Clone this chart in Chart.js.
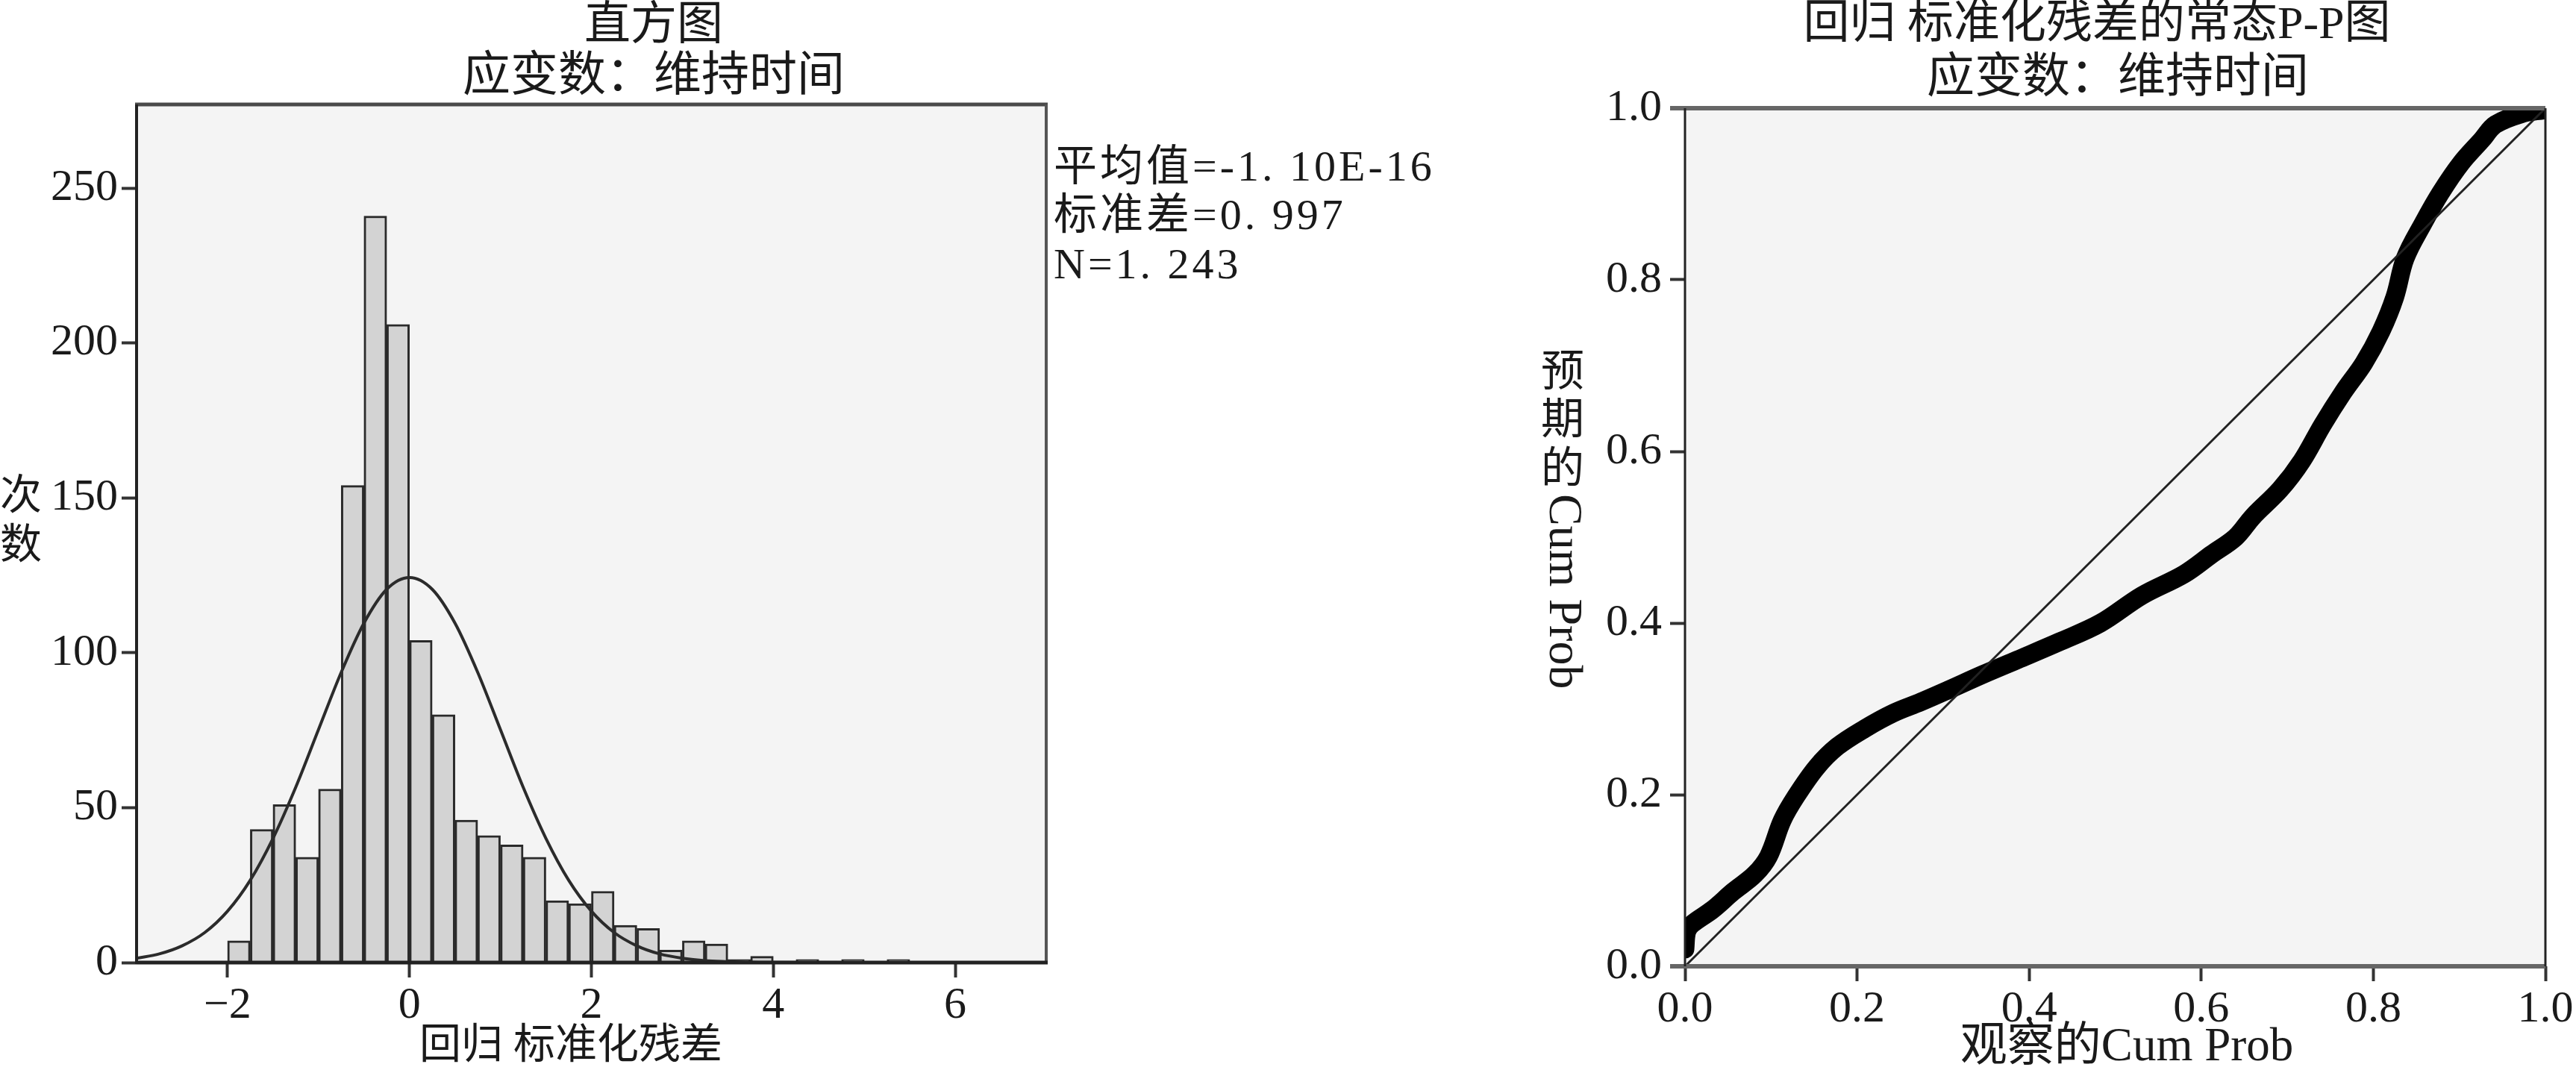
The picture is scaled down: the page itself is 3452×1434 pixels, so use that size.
<!DOCTYPE html>
<html>
<head>
<meta charset="utf-8">
<script src="https://cdn.jsdelivr.net/npm/chart.js@4.4.1/dist/chart.umd.min.js"></script>
<style>
html, body { margin: 0; padding: 0; background: #fff; }
#wrap { position: relative; width: 3452px; height: 1434px; }
canvas { position: absolute; top: 0; }
#histCanvas { left: 0; }
#ppCanvas { left: 1950px; }
</style>
</head>
<body>
<div id="wrap">
  <canvas id="histCanvas" width="1950" height="1434"></canvas>
  <canvas id="ppCanvas" width="1502" height="1434"></canvas>
</div>
<script>
// ---- histogram data (bins of width 0.25) ----
const binCenters = [-1.875, -1.625, -1.375, -1.125, -0.875, -0.625, -0.375, -0.125,
  0.125, 0.375, 0.625, 0.875, 1.125, 1.375, 1.625, 1.875,
  2.125, 2.375, 2.625, 2.875, 3.125, 3.375, 3.625, 3.875,
  4.125, 4.375, 4.625, 4.875, 5.125, 5.375];
const binCounts = [7, 43, 51, 34, 56, 154, 241, 206,
  104, 80, 46, 41, 38, 34, 20, 19,
  23, 12, 11, 4, 7, 6, 1, 2,
  0, 1, 0, 1, 0, 1];

// normal curve
const curveX = [-3, -2.75, -2.5, -2.25, -2, -1.75, -1.5, -1.25, -1, -0.75, -0.5, -0.25, 0,
  0.25, 0.5, 0.75, 1, 1.25, 1.5, 1.75, 2, 2.25, 2.5, 2.75, 3, 3.25, 3.5, 3.75, 4, 5, 6, 7];
const curveY = [1.4, 2.8, 5.4, 9.7, 16.6, 26.6, 40.1, 56.6, 75.2, 93.7, 109.6, 120.5, 124.3,
  120.5, 109.6, 93.7, 75.2, 56.6, 40.1, 26.6, 16.6, 9.7, 5.4, 2.8, 1.4, 0.6, 0.3, 0.1, 0.04, 0, 0, 0];

const histXTicks = [-2, 0, 2, 4, 6];
const histXLabels = ['\u22122', '0', '2', '4', '6'];
const histYTicks = [0, 50, 100, 150, 200, 250];
const histStats = ['平均值=-1. 10E-16', '标准差=0. 997', 'N=1. 243'];

// ---- P-P plot data ----
const ppX = [0.000, 0.002, 0.008, 0.032, 0.056, 0.081, 0.097, 0.113, 0.129, 0.153, 0.177, 0.209,
  0.242, 0.274, 0.306, 0.346, 0.386, 0.435, 0.483, 0.531, 0.580, 0.612, 0.640, 0.660, 0.692,
  0.717, 0.741, 0.765, 0.789, 0.809, 0.825, 0.837, 0.858, 0.878, 0.902, 0.926, 0.942, 0.974, 0.998];
const ppY = [0.020, 0.040, 0.049, 0.066, 0.087, 0.107, 0.128, 0.170, 0.198, 0.232, 0.256, 0.277,
  0.295, 0.308, 0.322, 0.340, 0.357, 0.378, 0.400, 0.432, 0.457, 0.480, 0.500, 0.524, 0.556,
  0.589, 0.631, 0.669, 0.703, 0.740, 0.780, 0.825, 0.866, 0.901, 0.936, 0.963, 0.981, 0.994, 0.998];
const diagX = [0, 1];
const diagY = [0, 1];
const ppTicks = [0, 0.2, 0.4, 0.6, 0.8, 1];
const ppLabels = ['0.0', '0.2', '0.4', '0.6', '0.8', '1.0'];

const serif = "'Liberation Serif', 'Noto Sans CJK SC', serif";
const ink = '#1a1a1a';

function put(ctx, str, x, y, size, align, base, spacing) {
  ctx.font = size + 'px ' + serif;
  ctx.fillStyle = ink;
  ctx.textAlign = align || 'center';
  ctx.textBaseline = base || 'middle';
  ctx.letterSpacing = spacing || '0px';
  ctx.fillText(str, x, y);
  ctx.letterSpacing = '0px';
}

function edge(ctx, x1, y1, x2, y2, color, w) {
  ctx.beginPath();
  ctx.strokeStyle = color;
  ctx.lineWidth = w;
  ctx.moveTo(x1, y1);
  ctx.lineTo(x2, y2);
  ctx.stroke();
}

// grey plot background
const plotBg = {
  id: 'plotBg',
  beforeDraw(chart) {
    const a = chart.chartArea, ctx = chart.ctx;
    ctx.save();
    ctx.fillStyle = '#f4f4f4';
    ctx.fillRect(a.left, a.top, a.right - a.left, a.bottom - a.top);
    ctx.restore();
  }
};

const histDecor = {
  id: 'histDecor',
  afterDraw(chart) {
    const a = chart.chartArea, ctx = chart.ctx;
    ctx.save();
    edge(ctx, a.left - 2, a.top, a.right + 2, a.top, '#4a4a4a', 5);
    edge(ctx, a.right, a.top, a.right, a.bottom, '#555', 4);
    edge(ctx, a.left, a.top, a.left, a.bottom + 2, '#222', 4);
    edge(ctx, a.left, a.bottom, a.right + 2, a.bottom, '#222', 5);
    put(ctx, '直方图', 876, 37, 62);
    put(ctx, '应变数：维持时间', 876, 104, 64);
    put(ctx, '回归 标准化残差', 765, 1403, 56);
    put(ctx, '次', 28, 667, 56);
    put(ctx, '数', 28, 733, 56);
    histStats.forEach((s, i) => put(ctx, s, 1412, [242, 307, 373][i], 58, 'left', 'alphabetic', '4px'));
    ctx.restore();
  }
};

const ppDecor = {
  id: 'ppDecor',
  afterDraw(chart) {
    const a = chart.chartArea, ctx = chart.ctx;
    ctx.save();
    edge(ctx, a.left - 20, a.top, a.right, a.top, '#666', 6);
    edge(ctx, a.left - 20, a.bottom, a.right, a.bottom, '#666', 6);
    edge(ctx, a.left, a.top, a.left, a.bottom, '#222', 3);
    edge(ctx, a.right, a.top, a.right, a.bottom, '#222', 3);
    put(ctx, '回归 标准化残差的常态P-P图', 860, 35, 62);
    put(ctx, '应变数：维持时间', 888, 106, 64);
    put(ctx, '观察的Cum Prob', 900, 1404, 63);
    put(ctx, '预', 144, 502, 58);
    put(ctx, '期', 144, 566, 58);
    put(ctx, '的', 144, 632, 58);
    ctx.translate(144, 662);
    ctx.rotate(Math.PI / 2);
    put(ctx, 'Cum Prob', 0, 0, 64, 'left', 'middle');
    ctx.restore();
  }
};

function axisGrid() {
  return { display: true, drawOnChartArea: false, drawTicks: true, tickLength: 20, tickWidth: 4, tickColor: '#333', offset: false };
}

Chart.defaults.animation = false;

new Chart(document.getElementById('histCanvas'), {
  type: 'bar',
  data: {
    datasets: [{
      type: 'line',
      data: curveX.map((x, i) => ({ x: x, y: curveY[i] })),
      borderColor: '#2b2b2b',
      borderWidth: 4,
      pointRadius: 0,
      cubicInterpolationMode: 'monotone',
      order: 0
    }, {
      type: 'bar',
      data: binCenters.map((x, i) => ({ x: x, y: binCounts[i] })),
      backgroundColor: '#d3d3d3',
      borderColor: '#2a2a2a',
      borderWidth: 3,
      barPercentage: 1,
      categoryPercentage: 1,
      order: 1
    }]
  },
  options: {
    responsive: false,
    devicePixelRatio: 1,
    layout: { padding: { left: 0, top: 140, right: 548, bottom: 0 } },
    plugins: { legend: { display: false }, tooltip: { enabled: false }, title: { display: false } },
    scales: {
      x: {
        type: 'linear', min: -3, max: 7, offset: false,
        grid: axisGrid(), border: { display: false },
        ticks: { font: { family: serif, size: 60 }, color: ink, padding: 2, maxRotation: 0, autoSkip: false,
          callback: (v, i) => histXLabels[i] },
        afterBuildTicks: s => { s.ticks = histXTicks.map(v => ({ value: v })); },
        afterFit: s => { s.height = 144; }
      },
      y: {
        type: 'linear', min: 0, max: 277,
        grid: axisGrid(), border: { display: false },
        ticks: { font: { family: serif, size: 60 }, color: ink, padding: 5, autoSkip: false },
        afterBuildTicks: s => { s.ticks = histYTicks.map(v => ({ value: v })); },
        afterFit: s => { s.width = 183; }
      }
    }
  },
  plugins: [plotBg, histDecor]
});

new Chart(document.getElementById('ppCanvas'), {
  type: 'line',
  data: {
    datasets: [{
      data: diagX.map((x, i) => ({ x: x, y: diagY[i] })),
      borderColor: '#222',
      borderWidth: 3,
      pointRadius: 0
    }, {
      data: ppX.map((x, i) => ({ x: x, y: ppY[i] })),
      borderColor: '#000',
      borderWidth: 25,
      borderCapStyle: 'round',
      borderJoinStyle: 'round',
      tension: 0.35,
      pointRadius: 0
    }]
  },
  options: {
    responsive: false,
    devicePixelRatio: 1,
    layout: { padding: { left: 0, top: 145, right: 41, bottom: 0 } },
    plugins: { legend: { display: false }, tooltip: { enabled: false } },
    scales: {
      x: {
        type: 'linear', min: 0, max: 1,
        grid: axisGrid(), border: { display: false },
        ticks: { font: { family: serif, size: 60 }, color: ink, padding: 2, maxRotation: 0, autoSkip: false,
          callback: (v, i) => ppLabels[i] },
        afterBuildTicks: s => { s.ticks = ppTicks.map(v => ({ value: v })); },
        afterFit: s => { s.height = 139; }
      },
      y: {
        type: 'linear', min: 0, max: 1,
        grid: axisGrid(), border: { display: false },
        ticks: { font: { family: serif, size: 60 }, color: ink, padding: 11, autoSkip: false,
          callback: (v, i) => ppLabels[i] },
        afterBuildTicks: s => { s.ticks = ppTicks.map(v => ({ value: v })); },
        afterFit: s => { s.width = 308; }
      }
    }
  },
  plugins: [plotBg, ppDecor]
});
</script>
</body>
</html>
